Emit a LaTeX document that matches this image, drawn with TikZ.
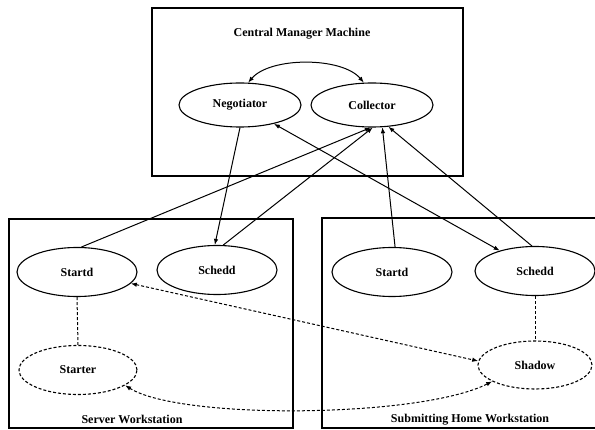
\documentclass[tikz,border=0pt]{standalone}
\usepackage{fontspec}
\setmainfont{Liberation Serif}
\usetikzlibrary{shapes.geometric,arrows.meta}
\begin{document}
\begin{tikzpicture}[x=1pt,y=-1pt,
  lbl/.style={font=\fontsize{12}{14}\selectfont\bfseries},
  daemon/.style={ellipse,draw,line width=1.1pt,minimum width=120pt,minimum height=49pt,inner sep=0pt,lbl},
  cmdaemon/.style={daemon,minimum width=122pt,minimum height=44pt},
  dashdaemon/.style={daemon,dash pattern=on 3pt off 2pt},
  machine/.style={draw,line width=1.3pt},
  link/.style={line width=1pt},
  dlink/.style={line width=1pt,dash pattern=on 3pt off 2pt},
  tip/.tip={Latex[length=6pt,width=4.5pt]},
  arr/.style={-tip},
  biarr/.style={tip-tip}]
\useasboundingbox (0,0) rectangle (595,430);

% machine boundaries
\draw[machine] (152,8) rectangle (463,176);
\draw[machine] (9,219) rectangle (293,428);
\draw[machine] (600,218) -- (322,218) -- (322,428) -- (600,428);

% machine titles
\node[lbl] (cmtitle) at (302,34) {Central Manager Machine};
\node[lbl] (swtitle) at (132,419) {Server Workstation};
\node[lbl] (hwtitle) at (470,420) {Submitting Home Workstation};

% daemons
\node[cmdaemon] (neg) at (240,105) {Negotiator};
\node[cmdaemon] (col) at (372,105) {Collector};
\node[daemon] (startdL) at (77,272) {Startd};
\node[daemon] (scheddL) at (217,270) {Schedd};
\node[daemon] (startdR) at (392,272) {Startd};
\node[daemon] (scheddR) at (535,271) {Schedd};
\node[dashdaemon,minimum width=118pt] (starter) at (78,370) {Starter};
\node[dashdaemon,minimum width=114pt,minimum height=48pt] (shadow) at (535,365) {Shadow};

% negotiator <-> collector
\draw[link,biarr] (neg.70) .. controls +(22,-26) and +(-22,-26) .. (col.110);

% reports to the collector
\draw[link,arr] (startdL.80) -- (col.-93);
\draw[link,arr] (scheddL.76) -- (col.-88);
\draw[link,arr] (startdR.83) -- (col.-65);
\draw[link,arr] (scheddR.97) -- (col.-53);

% negotiation with the schedds
\draw[link,arr] (neg.-90) -- (scheddL.95);
\draw[link,biarr] (neg.-29) -- (scheddR.150);

% process links
\draw[dlink] (startdL.south) -- (starter.north);
\draw[dlink] (scheddR.south) -- (shadow.north);
\draw[dlink,biarr] (startdL.-12) -- (shadow.176);
\draw[dlink,biarr] (starter.-18) .. controls (180,420) and (420,418) .. (shadow.201);
\end{tikzpicture}
\end{document}
